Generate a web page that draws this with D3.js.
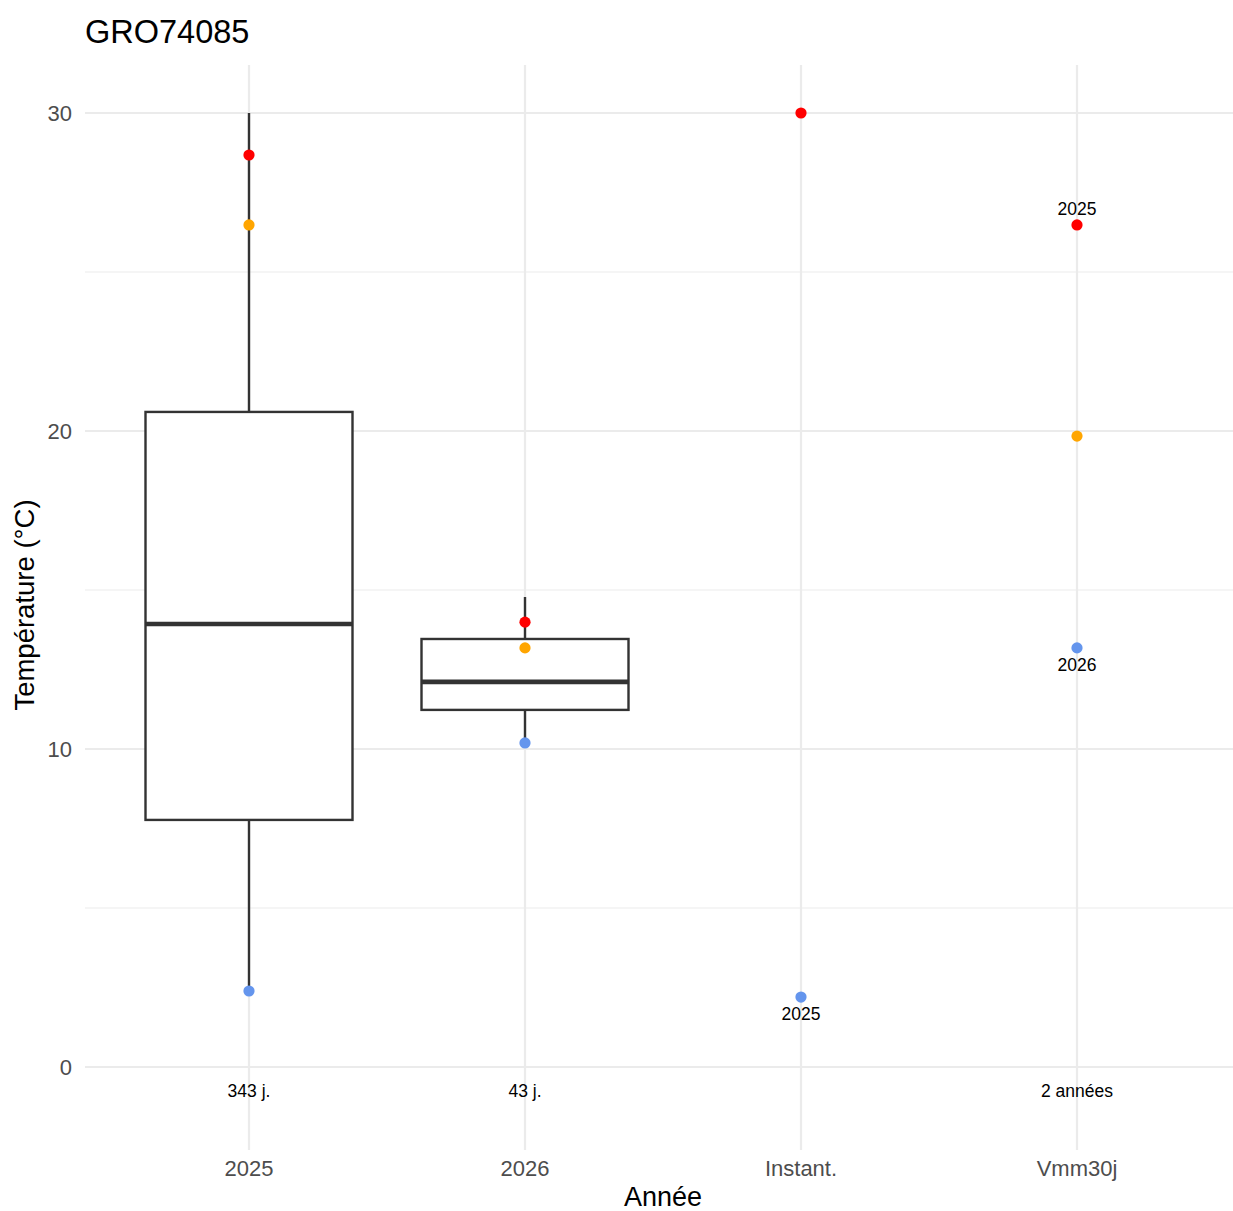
<!DOCTYPE html>
<html><head><meta charset="utf-8">
<script src="https://cdn.jsdelivr.net/npm/d3@7"></script>
<style>body{margin:0;background:#fff;font-family:"Liberation Sans",Arial,Helvetica,sans-serif;}</style>
</head><body><svg id="c" width="1233" height="1211"></svg>
<script>
const categories = ["2025", "2026", "Instant.", "Vmm30j"];
// boxplot stats: [lowWhisker, q1, median, q3, highWhisker]
const boxCategories = ["2025", "2026"];
const boxStats = [
  [2.39, 7.77, 13.93, 20.6, 30.0],
  [10.19, 11.23, 12.11, 13.46, 14.78]
];
const countLabels = ["343 j.", "43 j.", "", "2 années"];
const pointCats   = ["2025","2025","2025","2026","2026","2026","Instant.","Instant.","Vmm30j","Vmm30j","Vmm30j"];
const pointValues = [28.68, 26.48, 2.39, 13.99, 13.18, 10.19, 30.0, 2.2, 26.48, 19.84, 13.18];
const pointKinds  = ["max","mean","min","max","mean","min","max","min","max","mean","min"];
const yearLabelCats   = ["Instant.", "Vmm30j", "Vmm30j"];
const yearLabelValues = [2.2, 26.48, 13.18];
const yearLabelTexts  = ["2025", "2025", "2026"];
const yearLabelSide   = ["below", "above", "below"];
const yTicks = [0, 10, 20, 30];
const yMinor = [5, 15, 25];
const title = "GRO74085";
const xTitle = "Année";
const yTitle = "Température (°C)";

const colors = {max: "#FF0000", mean: "#FFA500", min: "#6495ED"};
const svg = d3.select("#c");
const panel = {left: 83.4, right: 1242.6, top: 65, bottom: 1150};
const x = d3.scalePoint().domain(categories).range([panel.left, panel.right]).padding(0.6);
const y = d3.scaleLinear().domain([-2.61, 31.51]).range([panel.bottom, panel.top]);
const step = x.step();

// grid
const g = svg.append("g");
g.selectAll(".minor").data(yMinor).join("line")
  .attr("x1", 85).attr("x2", 1233).attr("y1", d => y(d)).attr("y2", d => y(d))
  .attr("stroke", "#ebebeb").attr("stroke-width", 1.1);
g.selectAll(".major").data(yTicks).join("line")
  .attr("x1", 85).attr("x2", 1233).attr("y1", d => y(d)).attr("y2", d => y(d))
  .attr("stroke", "#ebebeb").attr("stroke-width", 2.2);
g.selectAll(".vmajor").data(categories).join("line")
  .attr("x1", d => x(d)).attr("x2", d => x(d)).attr("y1", panel.top).attr("y2", panel.bottom)
  .attr("stroke", "#ebebeb").attr("stroke-width", 2.2);

// boxplots
const bw = step * 0.75;
boxCategories.forEach((c, i) => {
  const s = boxStats[i];
  const cx = x(c);
  const bg = svg.append("g").attr("stroke", "#333333").attr("fill", "none");
  bg.append("line").attr("x1", cx).attr("x2", cx).attr("y1", y(s[3])).attr("y2", y(s[4])).attr("stroke-width", 2.4);
  bg.append("line").attr("x1", cx).attr("x2", cx).attr("y1", y(s[0])).attr("y2", y(s[1])).attr("stroke-width", 2.4);
  bg.append("rect").attr("x", cx - bw/2).attr("width", bw).attr("y", y(s[3])).attr("height", y(s[1]) - y(s[3]))
    .attr("fill", "#fff").attr("stroke-width", 2.4);
  bg.append("line").attr("x1", cx - bw/2).attr("x2", cx + bw/2).attr("y1", y(s[2])).attr("y2", y(s[2])).attr("stroke-width", 4.6);
});

// points
svg.selectAll(".pt").data(pointValues).join("circle")
  .attr("cx", (d, i) => x(pointCats[i])).attr("cy", d => y(d)).attr("r", 5.6)
  .attr("fill", (d, i) => colors[pointKinds[i]]);

// year labels
svg.selectAll(".yl").data(yearLabelTexts).join("text")
  .attr("x", (d, i) => x(yearLabelCats[i]))
  .attr("y", (d, i) => y(yearLabelValues[i]) + (yearLabelSide[i] === "below" ? 17 : -16))
  .attr("dy", "0.35em").attr("text-anchor", "middle").attr("font-size", 17.5).attr("fill", "#000")
  .text(d => d);

// count labels
svg.selectAll(".cl").data(countLabels).join("text")
  .attr("x", (d, i) => x(categories[i])).attr("y", y(-0.75))
  .attr("dy", "0.35em").attr("text-anchor", "middle").attr("font-size", 17.5).attr("fill", "#000")
  .text(d => d);

// axes text
svg.selectAll(".yt").data(yTicks).join("text")
  .attr("x", 72).attr("y", d => y(d)).attr("dy", "0.35em").attr("text-anchor", "end")
  .attr("font-size", 22).attr("fill", "#4d4d4d").text(d => d);
svg.selectAll(".xt").data(categories).join("text")
  .attr("x", d => x(d)).attr("y", 1176).attr("text-anchor", "middle")
  .attr("font-size", 22).attr("fill", "#4d4d4d").text(d => d);

svg.append("text").attr("x", 663).attr("y", 1206).attr("text-anchor", "middle")
  .attr("font-size", 27).attr("fill", "#000").text(xTitle);
svg.append("text").attr("transform", "translate(34,605) rotate(-90)").attr("text-anchor", "middle")
  .attr("font-size", 27.5).attr("fill", "#000").text(yTitle);
svg.append("text").attr("x", 85).attr("y", 43).attr("font-size", 32.5).attr("fill", "#000").text(title);
</script></body></html>
